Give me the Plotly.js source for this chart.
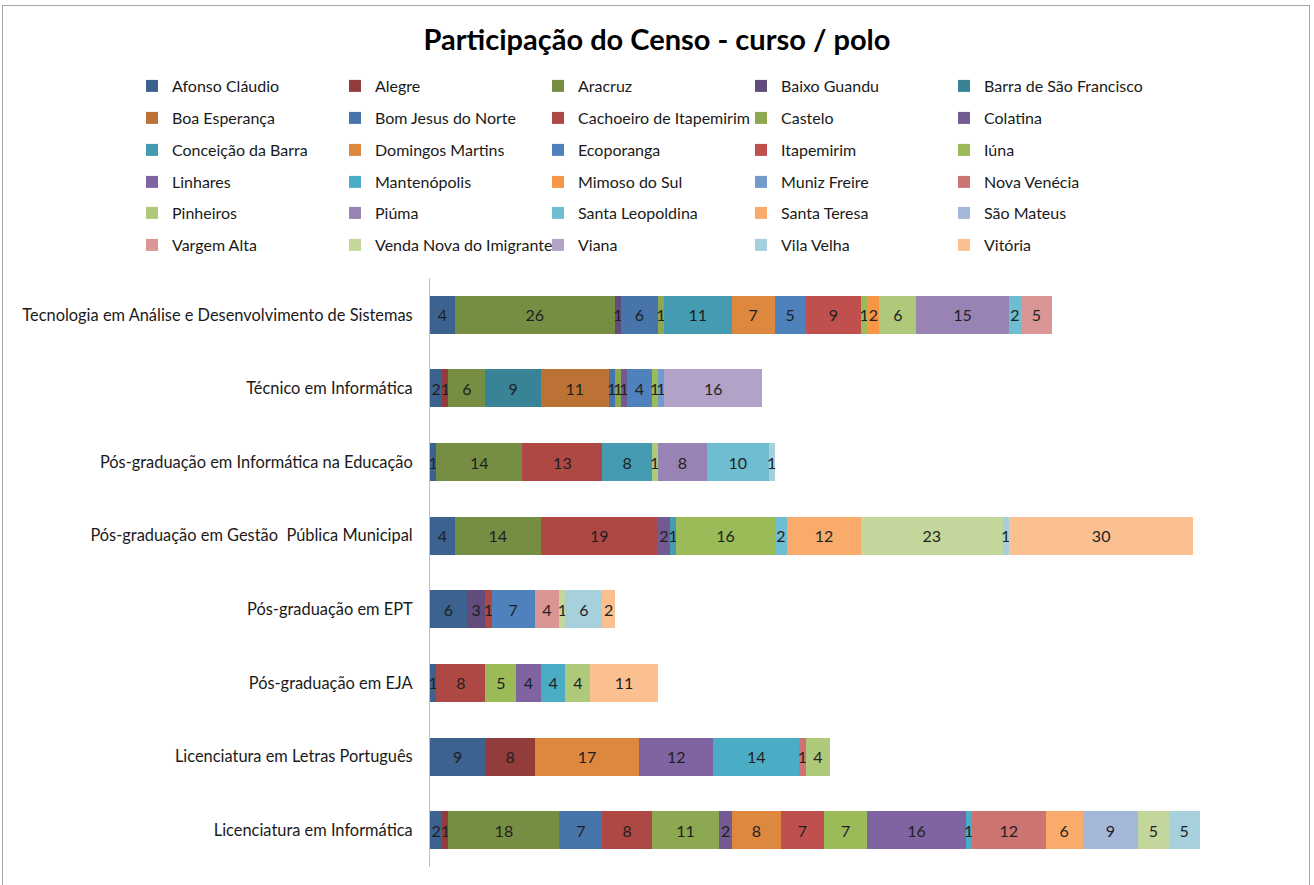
<!DOCTYPE html>
<html>
<head>
<meta charset="utf-8">
<script src="https://cdn.plot.ly/plotly-3.0.1.min.js"></script>
<style>
  html, body { margin: 0; padding: 0; background: #fff; overflow: hidden; }
  #frame { position: absolute; left: 2px; top: 5px; width: 1308px; height: 900px; border: 1px solid #a6a6a6; box-sizing: border-box; }
  #chart { position: absolute; left: 0; top: 0; width: 1314px; height: 885px; }
</style>
</head>
<body>
<div id="frame"></div>
<div id="chart"></div>
<script>
// Categories (top to bottom)
const categories = [
  "Tecnologia em Análise e Desenvolvimento de Sistemas",
  "Técnico em Informática",
  "Pós-graduação em Informática na Educação",
  "Pós-graduação em Gestão  Pública Municipal",
  "Pós-graduação em EPT",
  "Pós-graduação em EJA",
  "Licenciatura em Letras Português",
  "Licenciatura em Informática"
];

// Series (polos), in stacking / legend order
const polos = [
  "Afonso Cláudio", "Alegre", "Aracruz", "Baixo Guandu", "Barra de São Francisco",
  "Boa Esperança", "Bom Jesus do Norte", "Cachoeiro de Itapemirim", "Castelo", "Colatina",
  "Conceição da Barra", "Domingos Martins", "Ecoporanga", "Itapemirim", "Iúna",
  "Linhares", "Mantenópolis", "Mimoso do Sul", "Muniz Freire", "Nova Venécia",
  "Pinheiros", "Piúma", "Santa Leopoldina", "Santa Teresa", "São Mateus",
  "Vargem Alta", "Venda Nova do Imigrante", "Viana", "Vila Velha", "Vitória"
];

const polosColors = [
  "#3c6290", "#923d3b", "#768e44", "#614c7b", "#398397",
  "#bc7235", "#4774aa", "#ad4845", "#8ca850", "#735a92",
  "#449bb2", "#de873f", "#4f81bd", "#c0504d", "#9bbb59",
  "#8064a2", "#4bacc6", "#f79646", "#729aca", "#cd7371",
  "#afc97a", "#9983b5", "#6fbdd1", "#f9ab6b", "#a5b7d9",
  "#d99694", "#c3d69b", "#b3a2c7", "#a5d0dc", "#fac090"
];

// Values per course, one entry per polo (null = no participants)
const _ = null;
const tecnologiaADS      = [4,_,26,1,_, _,6,_,1,_, 11,7,5,9,1, _,_,2,_,_, 6,15,2,_,_, 5,_,_,_,_];
const tecnicoInformatica = [2,1,6,_,9, 11,1,_,1,1, _,_,4,_,1, _,_,_,1,_, _,_,_,_,_, _,_,16,_,_];
const posInfEducacao     = [1,_,14,_,_, _,_,13,_,_, 8,_,_,_,_, _,_,_,_,_, 1,8,10,_,_, _,_,_,1,_];
const posGestaoPublica   = [4,_,14,_,_, _,_,19,_,2, 1,_,_,_,16, _,_,_,_,_, _,_,2,12,_, _,23,_,1,30];
const posEPT             = [6,_,_,3,_, _,_,1,_,_, _,_,7,_,_, _,_,_,_,_, _,_,_,_,_, 4,1,_,6,2];
const posEJA             = [1,_,_,_,_, _,_,8,_,_, _,_,_,_,5, 4,4,_,_,_, 4,_,_,_,_, _,_,_,_,11];
const licLetras          = [9,8,_,_,_, _,_,_,_,_, _,17,_,_,_, 12,14,_,_,1, 4,_,_,_,_, _,_,_,_,_];
const licInformatica     = [2,1,18,_,_, _,7,8,11,2, _,8,_,7,7, 16,1,_,_,12, _,_,_,6,9, _,5,_,5,_];

const courseValues = [tecnologiaADS, tecnicoInformatica, posInfEducacao, posGestaoPublica,
                      posEPT, posEJA, licLetras, licInformatica];

const FONT = "Lato, 'Open Sans', sans-serif";

const traces = polos.map((name, i) => {
  const row = Math.floor(i / 5);
  return {
    type: "bar",
    orientation: "h",
    name: name,
    y: categories,
    x: courseValues.map(c => c[i]),
    marker: { color: polosColors[i], line: { width: 0 } },
    texttemplate: "%{x}",
    textposition: "inside",
    insidetextanchor: "middle",
    textangle: 0,
    constraintext: "none",
    textfont: { family: FONT, size: 16, color: "#1f1f1f" },
    legend: row === 0 ? "legend" : "legend" + (row + 1),
    hoverinfo: "name+x"
  };
});

// plot area: x 430..1292, y 278..867
const plotL = 430, plotR = 1292, plotT = 278, plotB = 867;
const pw = plotR - plotL, ph = plotB - plotT;
const rowY = [86, 118, 150, 182, 213, 245];
const legendLeftPx = 132;

const layout = {
  width: 1314,
  height: 885,
  paper_bgcolor: "rgba(0,0,0,0)",
  plot_bgcolor: "rgba(0,0,0,0)",
  margin: { l: plotL, r: 1314 - plotR, t: plotT, b: 885 - plotB, pad: 0 },
  barmode: "stack",
  bargap: 0.484,
  font: { family: FONT, size: 16, color: "#000" },
  title: {
    text: "<b>Participação do Censo - curso / polo</b>",
    font: { family: FONT, size: 29, color: "#000" },
    x: 0.5, xref: "container", xanchor: "center",
    y: 1 - 40 / 885, yref: "container", yanchor: "middle"
  },
  xaxis: {
    range: [0, 140],
    visible: false,
    showgrid: false,
    zeroline: false,
    fixedrange: true
  },
  yaxis: {
    type: "category",
    autorange: "reversed",
    showline: true,
    linecolor: "#bfbfbf",
    linewidth: 1,
    ticks: "",
    showgrid: false,
    ticklabelstandoff: 13,
    tickfont: { family: FONT, size: 16.4, color: "#1a1a1a" },
    fixedrange: true
  },
  uniformtext: { mode: "show", minsize: 16 },
  showlegend: true
};

rowY.forEach((py, r) => {
  const key = r === 0 ? "legend" : "legend" + (r + 1);
  layout[key] = {
    orientation: "h",
    x: (legendLeftPx - plotL) / pw,
    xanchor: "left",
    y: 1 + (plotT - py) / ph,
    yanchor: "middle",
    entrywidth: 158,
    entrywidthmode: "pixels",
    bgcolor: "rgba(0,0,0,0)",
    borderwidth: 0,
    font: { family: FONT, size: 16, color: "#1a1a1a" },
    traceorder: "normal",
    itemclick: false,
    itemdoubleclick: false
  };
});

Plotly.newPlot("chart", traces, layout, { displayModeBar: false, staticPlot: true });
</script>
</body>
</html>
